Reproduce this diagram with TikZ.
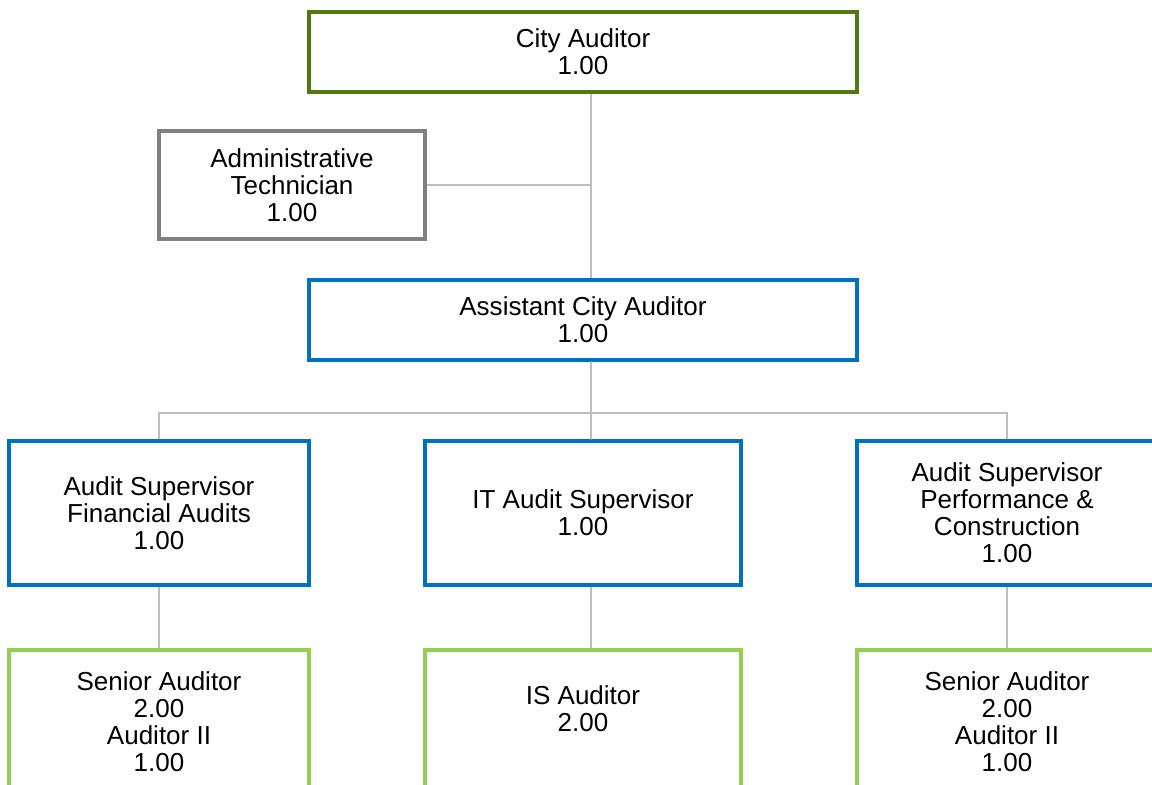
\documentclass[tikz,border=0pt]{standalone}
\usepackage{fontspec}
\setmainfont{Liberation Sans}
\usepackage{tikz}

\definecolor{topgreen}{RGB}{79,121,17}
\definecolor{admingray}{RGB}{128,128,128}
\definecolor{midblue}{RGB}{0,112,192}
\definecolor{lightgreen}{RGB}{146,208,80}
\definecolor{linegray}{RGB}{190,190,190}

\begin{document}
\begin{tikzpicture}[x=0.025cm, y=-0.025cm,
  box/.style={rectangle, draw, line width=2.3pt, fill=white, align=center, text centered,
    font=\fontsize{18.5}{19.2}\selectfont, inner sep=2pt},
  conn/.style={draw=linegray, line width=1.3pt}
]
\clip (0,0) rectangle (1152,784);
\fill[white] (0,0) rectangle (1152,784);

\node[box, draw=topgreen, minimum width=13.7cm, minimum height=2cm] (ca) at (583,52) {City Auditor\\1.00};
\node[box, draw=admingray, minimum width=6.65cm, minimum height=2.7cm] (at) at (292,185) {Administrative\\Technician\\1.00};
\node[box, draw=midblue, minimum width=13.7cm, minimum height=2cm] (aca) at (583,320) {Assistant City Auditor\\1.00};

\node[box, draw=midblue, minimum width=7.5cm, minimum height=3.6cm] (asf) at (159,513) {Audit Supervisor\\Financial Audits\\1.00};
\node[box, draw=midblue, minimum width=7.9cm, minimum height=3.6cm] (its) at (583,513) {IT Audit Supervisor\\1.00};
\node[box, draw=midblue, minimum width=7.5cm, minimum height=3.6cm] (asp) at (1007,513) {Audit Supervisor\\Performance \&\\Construction\\1.00};

\node[box, draw=lightgreen, minimum width=7.5cm, minimum height=3.6cm] (sa1) at (159,722) {Senior Auditor\\2.00\\Auditor II\\1.00};
\node[box, draw=lightgreen, minimum width=7.9cm, minimum height=3.6cm, text depth=19pt] (isa) at (583,722) {IS Auditor\\2.00};
\node[box, draw=lightgreen, minimum width=7.5cm, minimum height=3.6cm] (sa2) at (1007,722) {Senior Auditor\\2.00\\Auditor II\\1.00};

\coordinate (bus) at (591,413);

% connectors
\draw[conn] ([xshift=0.2cm]ca.south) -- ([xshift=0.2cm]aca.north);
\draw[conn] (at.east) -- (at.east -| bus);
\draw[conn] ([xshift=0.2cm]aca.south) -- (bus);
\draw[conn] (bus) -| (asf.north);
\draw[conn] (bus) -| (asp.north);
\draw[conn] (bus) -- ([xshift=0.2cm]its.north);
\draw[conn] (asf.south) -- (sa1.north);
\draw[conn] ([xshift=0.2cm]its.south) -- ([xshift=0.2cm]isa.north);
\draw[conn] (asp.south) -- (sa2.north);
\end{tikzpicture}
\end{document}
